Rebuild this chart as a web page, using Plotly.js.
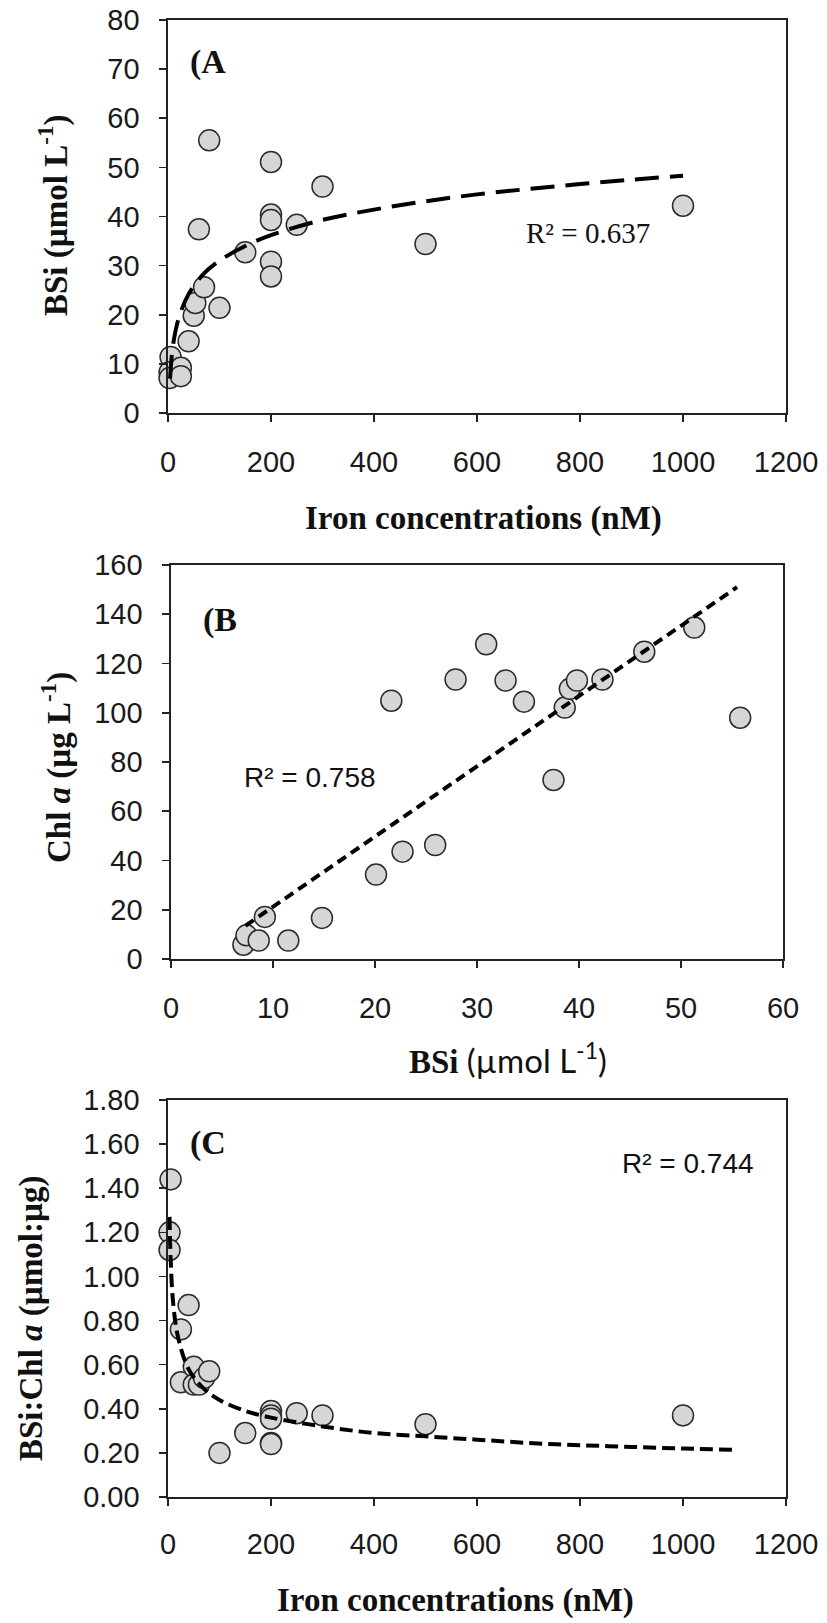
<!DOCTYPE html>
<html><head><meta charset="utf-8">
<script src="https://cdn.plot.ly/plotly-3.0.1.min.js"></script>
<style>html,body{margin:0;padding:0;background:#fff}</style>
</head><body><div id="chart" style="width:827px;height:1623px"></div>
<script>
// ---------- Panel A: BSi vs iron ----------
const ironA = [5, 3, 3, 25, 25, 40, 50, 53, 70, 60, 80, 100, 150, 200, 200, 200, 200, 200, 250, 300, 500, 1000];
const bsiA  = [11.4, 8.3, 7.1, 9.2, 7.5, 14.6, 19.8, 22.4, 25.6, 37.4, 55.5, 21.4, 32.7, 51.1, 40.4, 39.3, 30.8, 27.8, 38.3, 46.1, 34.4, 42.2];
const fitAx = [4, 6, 10, 20, 40, 70, 100, 150, 200, 300, 400, 500, 600, 700, 800, 900, 1000];
const fitAy = [7.0, 10.0, 14.0, 19.0, 24.2, 28.4, 31.0, 34.0, 36.2, 39.3, 41.4, 43.1, 44.5, 45.6, 46.6, 47.5, 48.3];

// ---------- Panel B: Chl a vs BSi ----------
const bsiB = [7.1, 7.4, 8.6, 9.2, 11.5, 14.8, 20.1, 22.7, 25.9, 21.6, 27.9, 30.9, 32.8, 34.6, 37.5, 38.6, 39.1, 39.8, 42.3, 46.4, 51.3, 55.8];
const chlB = [5.8, 9.6, 7.5, 17.1, 7.5, 16.7, 34.3, 43.6, 46.3, 104.9, 113.5, 127.8, 113.1, 104.5, 72.7, 102.1, 109.7, 113.1, 113.5, 124.8, 134.6, 98.0];
const fitBx = [7.3, 55.5];
const fitBy = [13.5, 151];

// ---------- Panel C: BSi:Chl a vs iron ----------
const ironC  = [5, 3, 3, 25, 25, 40, 50, 50, 60, 70, 80, 100, 150, 200, 200, 200, 200, 200, 250, 300, 500, 1000];
const ratioC = [1.44, 1.20, 1.12, 0.76, 0.52, 0.87, 0.59, 0.51, 0.51, 0.54, 0.57, 0.20, 0.29, 0.39, 0.37, 0.355, 0.245, 0.24, 0.38, 0.37, 0.33, 0.37];
const fitCx = [3, 5, 10, 20, 40, 70, 100, 150, 200, 300, 400, 500, 600, 700, 800, 900, 1000, 1100];
const fitCy = [1.27, 1.09, 0.88, 0.72, 0.58, 0.49, 0.44, 0.39, 0.36, 0.32, 0.29, 0.275, 0.26, 0.245, 0.235, 0.227, 0.22, 0.214];

// ---------- text ----------
const titleXA = "<b>Iron concentrations (nM)</b>";
const titleYA = "<b>BSi (µmol L<sup>-1</sup>)</b>";
const titleXB = "<b>BSi</b> <span style='font-family:Lato'>(µmol L<sup>-1</sup>)</span>";
const titleYB = "<b>Chl <i>a</i> (µg L<sup>-1</sup>)</b>";
const titleXC = "<b>Iron concentrations (nM)</b>";
const titleYC = "<b>BSi:Chl <i>a</i> (µmol:µg)</b>";
const r2A = "R² = 0.637", r2B = "R² = 0.758", r2C = "R² = 0.744";
const panelLabels = ["(A", "(B", "(C"];

const W = 827, H = 1623;
const px = x => x / W, py = y => 1 - y / H;

const markerStyle = {size: 21, color: '#d6d6d6', line: {color: '#2b2b2b', width: 1.5}};
function pts(x, y, xa, ya) {
  return {x, y, xaxis: xa, yaxis: ya, type: 'scatter', mode: 'markers', marker: markerStyle, cliponaxis: false, hoverinfo: 'skip'};
}
function fit(x, y, xa, ya, dash) {
  return {x, y, xaxis: xa, yaxis: ya, type: 'scatter', mode: 'lines', line: {color: '#000', width: 4, dash, shape: 'spline'}, cliponaxis: false, hoverinfo: 'skip'};
}

const data = [
  pts(ironA, bsiA, 'x', 'y'), fit(fitAx, fitAy, 'x', 'y', '24px,11px'),
  pts(bsiB, chlB, 'x2', 'y2'), fit(fitBx, fitBy, 'x2', 'y2', '10px,6px'),
  pts(ironC, ratioC, 'x3', 'y3'), fit(fitCx, fitCy, 'x3', 'y3', '13px,6px')
];

const tickFont = {family: 'Liberation Sans, Arial, sans-serif', size: 29, color: '#1a1a1a'};
function ax(domain, range, dtick, extra) {
  return Object.assign({domain, range, dtick, tick0: 0, showgrid: false, zeroline: false,
    showline: true, mirror: true, linecolor: '#222', linewidth: 1.6,
    ticks: 'outside', ticklen: 7, tickwidth: 1.6, tickcolor: '#222',
    tickfont: tickFont, fixedrange: true}, extra || {});
}

const layout = {
  width: W, height: H, margin: {l: 0, r: 0, t: 0, b: 0},
  paper_bgcolor: '#fff', plot_bgcolor: '#fff', showlegend: false,
  xaxis:  ax([px(168), px(786)], [0, 1200], 200, {anchor: 'y', ticklabelstandoff: 16}),
  yaxis:  ax([py(413), py(20)], [0, 80], 10, {anchor: 'x', ticklabelstandoff: 14}),
  xaxis2: ax([px(171), px(783)], [0, 60], 10, {anchor: 'y2', ticklabelstandoff: 16}),
  yaxis2: ax([py(959), py(565)], [0, 160], 20, {anchor: 'x2', ticklabelstandoff: 14}),
  xaxis3: ax([px(168), px(786)], [0, 1200], 200, {anchor: 'y3', ticklabelstandoff: 14}),
  yaxis3: ax([py(1497), py(1100)], [0, 1.8], 0.2, {anchor: 'x3', ticklabelstandoff: 14, tickformat: '.2f'}),
  annotations: []
};

const serifBold = {family: 'Liberation Serif, Times New Roman, serif', size: 33, color: '#111'};
const serifLab = {family: 'Liberation Serif, Times New Roman, serif', size: 34, color: '#111'};
function ann(text, x, y, font, opts) {
  layout.annotations.push(Object.assign({text, x: px(x), y: py(y), xref: 'paper', yref: 'paper',
    showarrow: false, xanchor: 'center', yanchor: 'middle', font}, opts || {}));
}
// axis titles
ann(titleXA, 483, 518, serifBold);
ann(titleYA, 53, 216, serifBold, {textangle: -90});
ann(titleXB, 508, 1058, serifBold);
ann(titleYB, 56, 768, serifBold, {textangle: -90});
ann(titleXC, 455, 1600, serifBold);
ann(titleYC, 31, 1318, serifBold, {textangle: -90});
// R² labels
ann(r2A, 588, 233, {family: 'Liberation Serif, Times New Roman, serif', size: 29, color: '#111'});
ann(r2B, 310, 777, {family: 'Liberation Sans, Arial, sans-serif', size: 28, color: '#111'});
ann(r2C, 688, 1163, {family: 'Liberation Sans, Arial, sans-serif', size: 28, color: '#111'});
// panel labels
ann('<b>' + panelLabels[0] + '</b>', 188, 62, serifLab, {xanchor: 'left'});
ann('<b>' + panelLabels[1] + '</b>', 201, 620, serifLab, {xanchor: 'left'});
ann('<b>' + panelLabels[2] + '</b>', 188, 1143, serifLab, {xanchor: 'left'});

Plotly.newPlot('chart', data, layout, {displayModeBar: false, staticPlot: true});
</script></body></html>
